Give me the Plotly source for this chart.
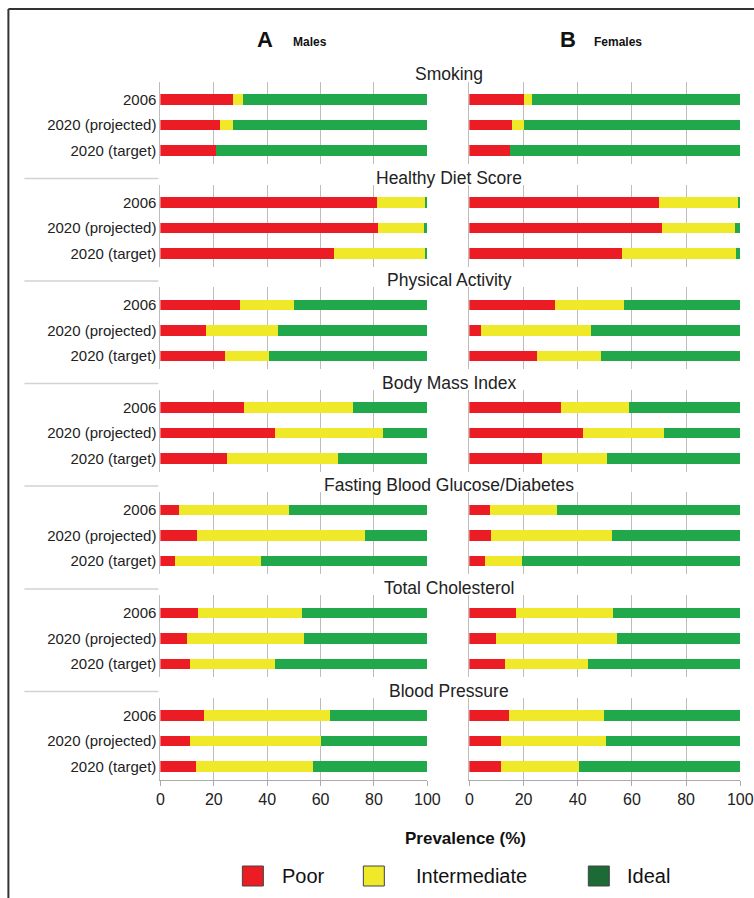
import plotly.graph_objects as go

W, H = 754, 898

categories = ["2006", "2020 (projected)", "2020 (target)"]
metrics = ["Smoking", "Healthy Diet Score", "Physical Activity", "Body Mass Index",
           "Fasting Blood Glucose/Diabetes", "Total Cholesterol", "Blood Pressure"]
levels = ["Poor", "Intermediate", "Ideal"]
tick_vals = [0, 20, 40, 60, 80, 100]

# Males: rows = metric, cols = [2006, 2020 projected, 2020 target]
male_poor = [[27.1, 22.3, 20.8], [81.1, 81.4, 65.2], [30.0, 17.1, 24.3], [31.4, 42.9, 25.0],
             [6.9, 13.6, 5.5], [14.0, 10.1, 11.2], [16.4, 11.2, 13.2]]
male_inter = [[3.7, 4.9, 0.0], [17.9, 17.2, 33.9], [20.1, 26.8, 16.3], [40.9, 40.4, 41.4],
              [41.4, 63.1, 32.3], [39.1, 43.6, 31.9], [47.0, 48.8, 43.9]]
male_ideal = [[69.2, 72.8, 79.2], [1.0, 1.4, 0.9], [49.9, 56.1, 59.4], [27.7, 16.7, 33.6],
              [51.7, 23.3, 62.2], [46.9, 46.3, 56.9], [36.6, 40.0, 42.9]]

# Females
female_poor = [[20.1, 15.7, 15.0], [70.1, 71.2, 56.4], [31.5, 4.3, 25.1], [33.7, 42.1, 27.0],
               [7.7, 8.0, 5.9], [17.2, 10.0, 13.3], [14.6, 11.6, 11.6]]
female_inter = [[2.9, 4.3, 0.0], [28.9, 26.7, 42.1], [25.7, 40.5, 23.4], [25.4, 29.8, 23.7],
                [24.8, 44.5, 13.4], [36.0, 44.4, 30.6], [35.0, 38.9, 29.0]]
female_ideal = [[77.0, 80.0, 85.0], [1.0, 2.1, 1.5], [42.8, 55.2, 51.5], [40.9, 28.1, 49.3],
                [67.5, 47.5, 80.7], [46.8, 45.6, 56.1], [50.4, 49.5, 59.4]]

bar_colors = {"Poor": "#EC1C24", "Intermediate": "#EFE92A", "Ideal": "#20A84A"}
legend_colors = {"Poor": "#EC1C24", "Intermediate": "#EFE92A", "Ideal": "#1C6B36"}

FONT = "Liberation Sans, Arial, sans-serif"

# layout geometry (target pixels)
group_y0 = [99.5, 202.5, 305, 407.5, 510, 613, 715.5]  # centre of first bar in each group
pitch = 25.5
top_pad, bot_pad = 18, 13
x_dom = [(160, 427), (469, 740)]

# horizontal calibration measured from earlier renders
XS, XO = 0.9776, 3.6


def px_x(x):
    return ((x - XO) / XS) / W


def px_y(y):
    return 1 - y / H


fig = go.Figure()
layout = dict(
    width=W, height=H, autosize=False,
    margin=dict(l=0, r=0, t=0, b=0),
    paper_bgcolor="white", plot_bgcolor="white",
    barmode="stack", showlegend=False,
    font=dict(family=FONT, color="#222"),
)

data_by_sex = [(male_poor, male_inter, male_ideal), (female_poor, female_inter, female_ideal)]

k = 0
for g, metric in enumerate(metrics):
    y0 = group_y0[g]
    top = y0 - top_pad
    bot = y0 + 2 * pitch + bot_pad
    for s in range(2):
        k += 1
        xa = "x" if k == 1 else f"x{k}"
        ya = "y" if k == 1 else f"y{k}"
        vals = data_by_sex[s]
        for lev, arr in zip(levels, vals):
            fig.add_trace(go.Bar(
                y=categories, x=arr[g], orientation="h",
                name=lev, marker=dict(color=bar_colors[lev], line=dict(width=0)),
                width=0.42, xaxis=xa, yaxis=ya,
                hovertemplate=f"{metric} – %{{y}}<br>{lev}: %{{x}}%<extra></extra>",
            ))
        last = (g == len(metrics) - 1)
        layout["xaxis" if k == 1 else f"xaxis{k}"] = dict(
            domain=[px_x(x_dom[s][0]), min(1.0, px_x(x_dom[s][1]))],
            anchor=ya, range=[0, 100], tickvals=tick_vals,
            showgrid=True, gridcolor="#bdbdbd", gridwidth=1,
            zeroline=False,
            showticklabels=last,
            ticks="outside" if last else "", ticklen=5, tickcolor="#aaaaaa",
            showline=last, linecolor="#aaaaaa", linewidth=1,
            tickfont=dict(size=16, color="#222", family=FONT),
            fixedrange=True,
        )
        layout["yaxis" if k == 1 else f"yaxis{k}"] = dict(
            domain=[px_y(bot), px_y(top)],
            anchor=xa, type="category", categoryorder="array", categoryarray=categories,
            range=[2 + bot_pad / pitch, -top_pad / pitch],
            showgrid=False, zeroline=False,
            showline=True, linecolor="#bdbdbd", linewidth=1,
            showticklabels=(s == 0), ticks="",
            tickfont=dict(size=15, color="#222", family=FONT),
            fixedrange=True,
        )

fig.update_layout(**layout)

annotations = []
shapes = []

# group titles and left separators
for g, metric in enumerate(metrics):
    ty = group_y0[g] - 25
    annotations.append(dict(
        x=px_x(449), y=px_y(ty), xref="paper", yref="paper", text=metric,
        showarrow=False, xanchor="center", yanchor="middle",
        font=dict(size=17.5, color="#222", family=FONT)))
    if g > 0:
        sy = group_y0[g] - 24
        shapes.append(dict(type="line", xref="paper", yref="paper",
                           x0=px_x(24), x1=px_x(158), y0=px_y(sy), y1=px_y(sy),
                           line=dict(color="#cfd3d6", width=1.5)))

# panel headers
for letter, lx, word, wx in [("A", 265, "Males", 310), ("B", 568, "Females", 618)]:
    annotations.append(dict(x=px_x(lx), y=px_y(39), xref="paper", yref="paper", text=f"<b>{letter}</b>",
                            showarrow=False, xanchor="center", yanchor="middle",
                            font=dict(size=22, color="#111", family=FONT)))
    annotations.append(dict(x=px_x(wx), y=px_y(42), xref="paper", yref="paper", text=f"<b>{word}</b>",
                            showarrow=False, xanchor="center", yanchor="middle",
                            font=dict(size=12, color="#111", family=FONT)))

# x axis title
annotations.append(dict(x=px_x(465), y=px_y(838), xref="paper", yref="paper", text="<b>Prevalence (%)</b>",
                        showarrow=False, xanchor="center", yanchor="middle",
                        font=dict(size=17, color="#111", family=FONT)))

# legend
legend_pos = {"Poor": (242, 280), "Intermediate": (363, 414), "Ideal": (588, 625)}
for lev in levels:
    sx, tx = legend_pos[lev]
    shapes.append(dict(type="rect", xref="paper", yref="paper",
                       x0=px_x(sx), x1=px_x(sx + 21), y0=px_y(886), y1=px_y(866),
                       fillcolor=legend_colors[lev], line=dict(color="#444", width=1)))
    annotations.append(dict(x=px_x(tx), y=px_y(876), xref="paper", yref="paper", text=lev,
                            showarrow=False, xanchor="left", yanchor="middle",
                            font=dict(size=20, color="#111", family=FONT)))

# frame (left and top border)
shapes.append(dict(type="line", xref="paper", yref="paper", x0=px_x(8), x1=px_x(8),
                   y0=px_y(9), y1=px_y(900), line=dict(color="#333", width=2)))
shapes.append(dict(type="line", xref="paper", yref="paper", x0=px_x(8), x1=1.02,
                   y0=px_y(9), y1=px_y(9), line=dict(color="#333", width=2)))

fig.update_layout(annotations=annotations, shapes=shapes)

fig.write_html(
    "out.html",
    config={"responsive": False, "displayModeBar": False},
    post_script="document.body.style.margin='0';document.body.style.padding='0';"
                "document.body.style.overflow='hidden';",
)
